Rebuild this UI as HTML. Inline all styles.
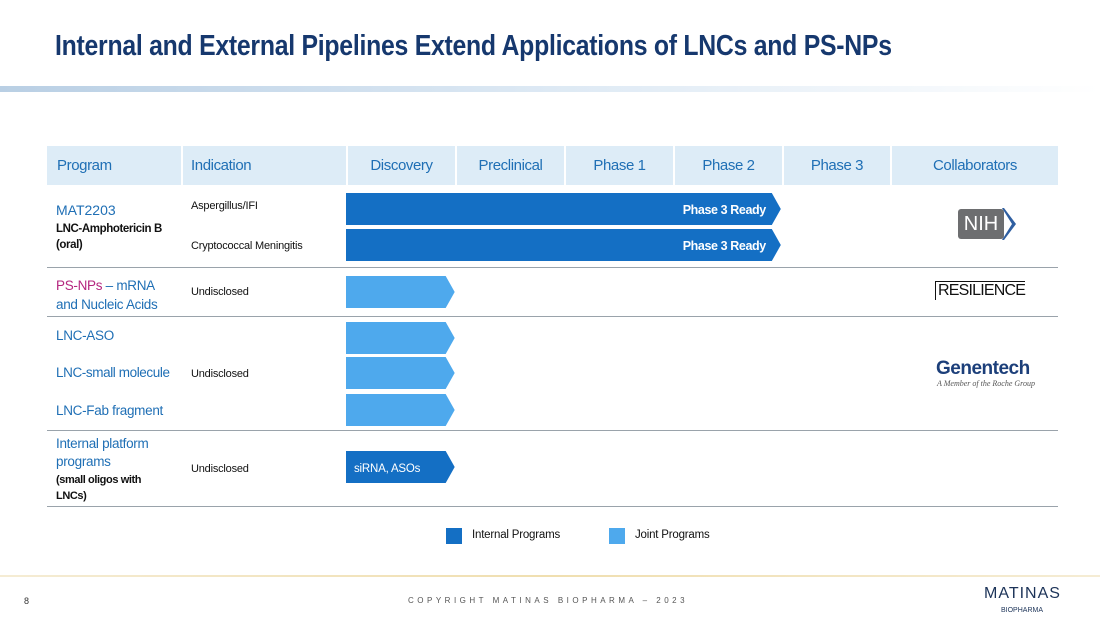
<!DOCTYPE html>
<html><head><meta charset="utf-8"><style>
body{margin:0;width:1100px;height:619px;background:#fff;position:relative;overflow:hidden;font-family:"Liberation Sans Narrow","Liberation Sans",sans-serif}
.a{position:absolute;white-space:nowrap}
.hd{position:absolute;top:146px;height:39px;background:#ddecf7;color:#1f6fb5;font-size:15px;letter-spacing:-0.4px;line-height:39px}
.blue{color:#1f6fb5}
.sm{font-size:11px;color:#111;letter-spacing:-0.2px}
.sep{position:absolute;left:47px;width:1011px;height:1px;background:#9aa3ab}
</style></head><body>
<div class="a" style="left:55px;top:30px;font-size:29px;color:#16386e;font-weight:bold;transform:scaleX(0.855);transform-origin:left top;letter-spacing:-0.3px">Internal and External Pipelines Extend Applications of LNCs and PS-NPs</div>
<div class="a" style="left:0;top:86px;width:1100px;height:6px;background:linear-gradient(90deg,#b9cfe4,#dde9f4 50%,#fff)"></div>

<div class="hd" style="left:47px;width:134px;padding-left:10px;box-sizing:border-box">Program</div>
<div class="hd" style="left:183px;width:163px;padding-left:8px;box-sizing:border-box">Indication</div>
<div class="hd" style="left:348px;width:107px;text-align:center">Discovery</div>
<div class="hd" style="left:457px;width:107px;text-align:center">Preclinical</div>
<div class="hd" style="left:566px;width:107px;text-align:center">Phase 1</div>
<div class="hd" style="left:675px;width:107px;text-align:center">Phase 2</div>
<div class="hd" style="left:784px;width:106px;text-align:center">Phase 3</div>
<div class="hd" style="left:892px;width:166px;text-align:center">Collaborators</div>

<div class="a blue" style="left:56px;top:202px;font-size:14px">MAT2203</div>
<div class="a" style="left:56px;top:221px;font-size:11.5px;font-weight:bold;line-height:16px;color:#111;letter-spacing:-0.4px">LNC-Amphotericin B<br>(oral)</div>
<div class="a sm" style="left:191px;top:200px">Aspergillus/IFI</div>
<div class="a sm" style="left:191px;top:240px">Cryptococcal Meningitis</div>
<div class="sep" style="top:267px"></div>
<div class="a blue" style="left:56px;top:276px;font-size:13.5px;line-height:19px;letter-spacing:-0.3px"><span style="color:#b5267f">PS-NPs</span> – mRNA<br>and Nucleic Acids</div>
<div class="a sm" style="left:191px;top:286px">Undisclosed</div>
<div class="sep" style="top:316px"></div>
<div class="a blue" style="left:56px;top:328px;font-size:13.5px;letter-spacing:-0.3px">LNC-ASO</div>
<div class="a blue" style="left:56px;top:365px;font-size:13.5px;letter-spacing:-0.4px">LNC-small molecule</div>
<div class="a blue" style="left:56px;top:403px;font-size:13.5px;letter-spacing:-0.3px">LNC-Fab fragment</div>
<div class="a sm" style="left:191px;top:368px">Undisclosed</div>
<div class="sep" style="top:430px"></div>
<div class="a blue" style="left:56px;top:435px;font-size:13.5px;line-height:18px;letter-spacing:-0.3px">Internal platform<br>programs</div>
<div class="a" style="left:56px;top:472px;font-size:11px;font-weight:bold;line-height:16px;color:#111;letter-spacing:-0.4px">(small oligos with<br>LNCs)</div>
<div class="a sm" style="left:191px;top:463px">Undisclosed</div>
<div class="sep" style="top:506px"></div>

<svg class="a" style="left:0;top:0" width="1100" height="619" id="bars"></svg>

<div class="a" style="left:958px;top:209px;width:46px;height:30px;background:#6d6e70;border-radius:3px;color:#fff;font-family:'Liberation Sans',sans-serif;font-size:20px;line-height:30px;text-align:center">NIH</div>
<svg class="a" style="left:1002px;top:208px" width="14" height="32"><path d="M2 0 L14 16 L2 32 L0 32 L10 16 L0 0Z" fill="#2f5fa1"/></svg>
<div class="a" style="left:935px;top:281px;font-family:'Liberation Sans',sans-serif;font-size:16px;color:#111;border-left:1.5px solid #111;border-top:1.5px solid #111;padding-left:2px;line-height:18px;letter-spacing:-0.8px">RESILIENCE</div>
<div class="a" style="left:936px;top:358px;font-family:'Liberation Sans',sans-serif;font-size:19px;font-weight:bold;color:#1c3f7a;letter-spacing:-0.5px">Genentech</div>
<div class="a" style="left:937px;top:379px;font-family:'Liberation Serif',serif;font-size:8px;font-style:italic;color:#555">A Member of the Roche Group</div>

<div class="a" style="left:446px;top:528px;width:16px;height:16px;background:#146fc4"></div>
<div class="a" style="left:472px;top:529px;font-size:11.5px;color:#111;letter-spacing:-0.2px">Internal Programs</div>
<div class="a" style="left:609px;top:528px;width:16px;height:16px;background:#4ea9ed"></div>
<div class="a" style="left:635px;top:529px;font-size:11.5px;color:#111;letter-spacing:-0.2px">Joint Programs</div>

<div class="a" style="left:0;top:575px;width:1100px;height:2px;background:linear-gradient(90deg,#f5ecd4,#f0dfb0,#f5ecd4)"></div>
<div class="a" style="left:24px;top:596px;font-size:9px;color:#333">8</div>
<div class="a" style="left:408px;top:596px;font-size:8px;letter-spacing:3.5px;color:#555;font-family:'Liberation Sans',sans-serif">COPYRIGHT MATINAS BIOPHARMA – 2023</div>
<div class="a" style="left:984px;top:585px;font-family:'Liberation Sans',sans-serif;font-size:16px;color:#1c3358;letter-spacing:1px">MATINAS</div>
<div class="a" style="left:1001px;top:607px;font-family:'Liberation Sans',sans-serif;font-size:7px;color:#1c3358">BIOPHARMA</div>

<script>
const stages=["Discovery","Preclinical","Phase 1","Phase 2","Phase 3"];
const barNames=["aspergillus","cryptococcal","ps-nps","lnc-aso","lnc-small-molecule","lnc-fab","internal-platform"];
const barEndStage=[4,4,1,1,1,1,1];
const barType=["internal","internal","joint","joint","joint","joint","internal"];
const barLabels=["Phase 3 Ready","Phase 3 Ready","","","","",""];
const barInsideLabels=["","","","","","","siRNA, ASOs"];
const barRowTop=[193,229,276,322,357,394,451];
const x=s=>346+s*108.7;
const svg=document.getElementById('bars');
const NS="http://www.w3.org/2000/svg";
barNames.forEach((n,i)=>{
  const y=barRowTop[i],h=32,x0=346,x1=x(barEndStage[i]),tip=9;
  const p=document.createElementNS(NS,'path');
  p.setAttribute('d',`M${x0} ${y} L${x1-tip} ${y} L${x1} ${y+h/2} L${x1-tip} ${y+h} L${x0} ${y+h}Z`);
  p.setAttribute('fill',barType[i]==='internal'?'#146fc4':'#4ea9ed');
  
  
  svg.appendChild(p);
  if(barLabels[i]){
    const t=document.createElementNS(NS,'text');
    t.setAttribute('x',x1-tip-6);t.setAttribute('y',y+21);t.setAttribute('text-anchor','end');
    t.setAttribute('fill','#fff');t.setAttribute('font-size','12.5');t.setAttribute('font-weight','bold');
    t.setAttribute('letter-spacing','-0.4');
    t.setAttribute('font-family','Liberation Sans Narrow, Liberation Sans, sans-serif');
    t.textContent=barLabels[i];
    
    
    svg.appendChild(t);
  }
  if(barInsideLabels[i]){
    const t=document.createElementNS(NS,'text');
    t.setAttribute('x',x0+8);t.setAttribute('y',y+21);
    t.setAttribute('fill','#fff');t.setAttribute('font-size','11.5');
    t.setAttribute('letter-spacing','-0.2');
    t.setAttribute('font-family','Liberation Sans Narrow, Liberation Sans, sans-serif');
    t.textContent=barInsideLabels[i];
    
    
    svg.appendChild(t);
  }
});
</script>
</body></html>
